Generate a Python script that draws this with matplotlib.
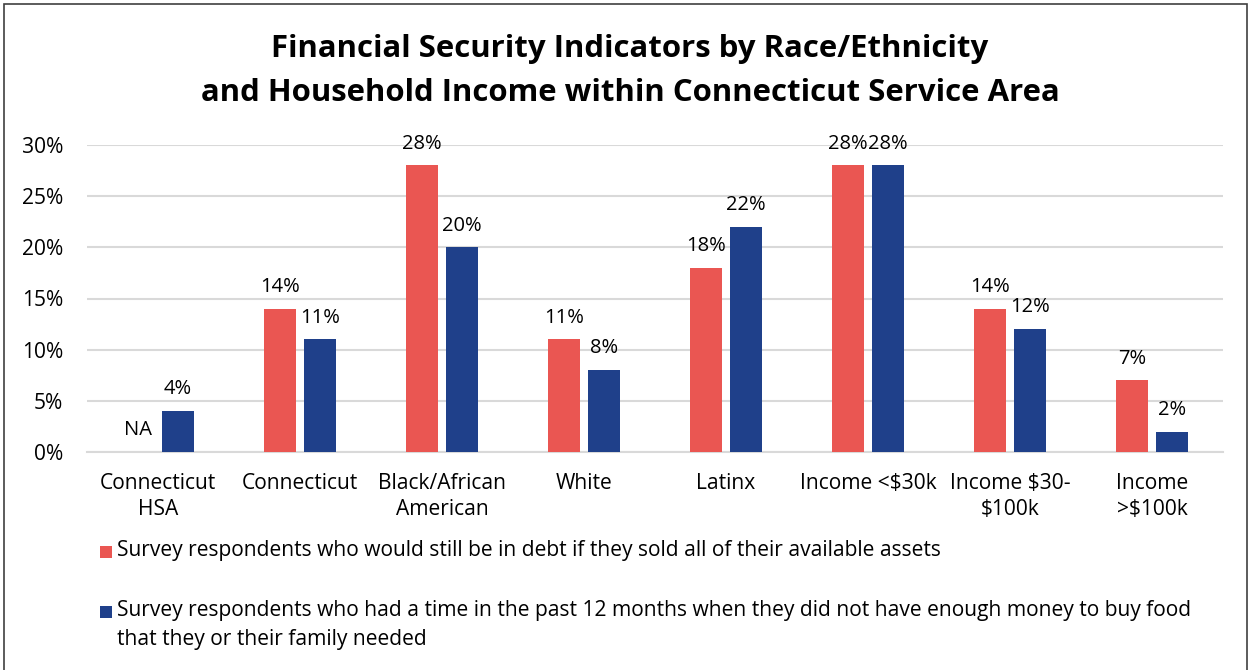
import numpy as np
import matplotlib
matplotlib.use("Agg")
import matplotlib.pyplot as plt
from matplotlib.patches import Rectangle

# ---- data -------------------------------------------------------------
categories = [
    "Connecticut\nHSA", "Connecticut", "Black/African\nAmerican", "White",
    "Latinx", "Income <\\$30k", "Income \\$30-\n\\$100k", "Income\n>\\$100k",
]
in_debt = [None, 14, 28, 11, 18, 28, 14, 7]          # % (None = not available)
food_insecure = [4, 11, 20, 8, 22, 28, 12, 2]        # %
series_names = [
    "Survey respondents who would still be in debt if they sold all of their available assets",
    "Survey respondents who had a time in the past 12 months when they did not have enough money to buy food\nthat they or their family needed",
]
y_ticks = [0, 5, 10, 15, 20, 25, 30]
title = ("Financial Security Indicators by Race/Ethnicity\n"
         "and Household Income within Connecticut Service Area")

# ---- style ------------------------------------------------------------
RED = "#EA5652"
BLUE = "#1F408A"
GRID = "#D9D9D9"
FONT = "Open Sans"
FS = 15.1
plt.rcParams["font.family"] = [FONT, "DejaVu Sans"]

fig = plt.figure(figsize=(12.51, 6.70), dpi=100)
ax = fig.add_axes([87 / 1251, 1 - 452 / 670, (1223 - 87) / 1251, (452 - 145) / 670])

x = np.arange(len(categories))
w = 0.225
off = 0.142

red_vals = [np.nan if v is None else v for v in in_debt]
ax.bar(x - off, red_vals, width=w, color=RED, zorder=3)
ax.bar(x + off, food_insecure, width=w, color=BLUE, zorder=3)

lab_kw = dict(ha="center", va="bottom", fontsize=FS - 0.6, color="#000000",
              textcoords="offset points", clip_on=False)
for xi, v in zip(x - off, in_debt):
    txt = "NA" if v is None else f"{v}%"
    ax.annotate(txt, (xi, 0 if v is None else v), xytext=(0, 8.5), **lab_kw)
for xi, v in zip(x + off, food_insecure):
    ax.annotate(f"{v}%", (xi, v), xytext=(0, 8.5), **lab_kw)

ax.set_xlim(-0.5, len(categories) - 0.5)
ax.set_ylim(0, 30)
ax.set_yticks(y_ticks)
ax.set_yticklabels([f"{t}%" for t in y_ticks], fontsize=FS)
ax.set_xticks(x)
ax.set_xticklabels(categories, fontsize=FS, linespacing=1.3)
ax.tick_params(axis="both", length=0, colors="#000000")
ax.tick_params(axis="x", pad=15)
ax.tick_params(axis="y", pad=17)
ax.yaxis.grid(True, color=GRID, linewidth=1.5, zorder=0)
for s in ["top", "right", "left"]:
    ax.spines[s].set_visible(False)
ax.spines["bottom"].set_color(GRID)
ax.spines["bottom"].set_linewidth(1.5)
ax.spines["bottom"].set_zorder(2)

fig.text(630 / 1251, 1 - 71 / 670, title, ha="center", va="center",
         fontsize=22.4, fontweight="bold", linespacing=1.62)

# legend drawn as squares + text beneath the plot
legend_rows = [(RED, series_names[0], 552), (BLUE, series_names[1], 612)]
for color, name, ypix in legend_rows:
    fig.patches.append(Rectangle((100 / 1251, 1 - (ypix + 6) / 670), 12 / 1251, 12 / 670,
                                 transform=fig.transFigure, facecolor=color,
                                 edgecolor="none"))
    fig.text(117 / 1251, 1 - (ypix - 12) / 670, name, ha="left", va="top",
             fontsize=FS, linespacing=1.52)

# chart border
fig.patches.append(Rectangle((4 / 1251, -0.01), 1243 / 1251, 1 - 4 / 670 + 0.01,
                             transform=fig.transFigure, facecolor="none",
                             edgecolor="#404040", linewidth=1.2))

fig.savefig("out.png", dpi=100)
